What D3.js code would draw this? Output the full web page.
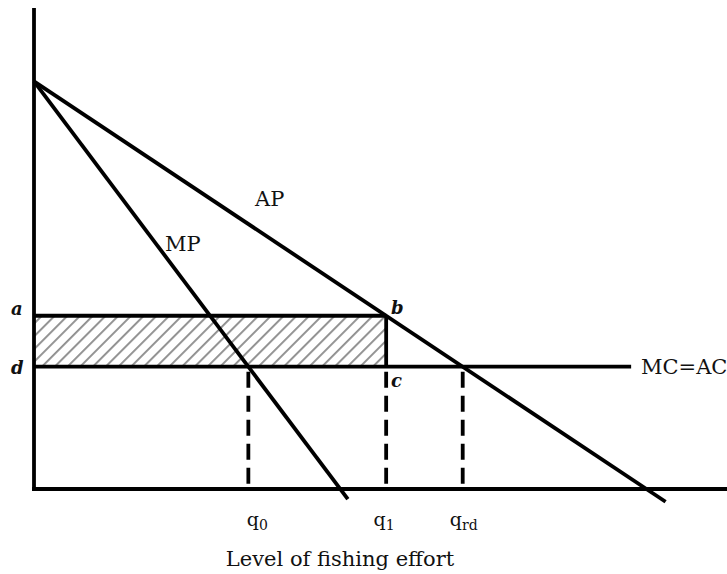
<!DOCTYPE html>
<html><head><meta charset="utf-8">
<script src="https://cdn.jsdelivr.net/npm/d3@7"></script>
<style>body{margin:0;background:#fff}svg{display:block}</style>
</head><body>
<script>
// ---- data ----
const intercept = 10;            // value where AP and MP meet the vertical axis
const apSlope = 0.625;           // average product falls by this per unit effort
const mpSlope = 1.25;            // marginal product falls by this per unit effort
const apEnd = 16.5;              // last effort drawn for AP
const mpEnd = 8.2;               // last effort drawn for MP
const priceLevels = [{name:"a", v:4.25}, {name:"d", v:3.0}];
const mcLevel = 3.0, mcEnd = 15.6;
const qNames = ["q0", "q1", "qrd"];
const qValues = [5.6, 9.2, 11.2];
const qLabelShift = [9, -2, 1];
const xLabel = "Level of fishing effort";

const W = 727, H = 574;
const svg = d3.select("body").append("svg").attr("width", W).attr("height", H);
const x = d3.scaleLinear().domain([0, 18]).range([34, 723]);
const y = d3.scaleLinear().domain([0, 11.8]).range([489, 8]);

const defs = svg.append("defs");
const pat = defs.append("pattern").attr("id","hatch").attr("patternUnits","userSpaceOnUse")
  .attr("width",9).attr("height",9).attr("patternTransform","rotate(45)");
pat.append("line").attr("x1",0).attr("y1",0).attr("x2",0).attr("y2",9)
  .attr("stroke","#8f8f8f").attr("stroke-width",3.8);

const q1 = qValues[1];
svg.append("rect").attr("x", x(0)).attr("y", y(priceLevels[0].v))
  .attr("width", x(q1)-x(0)).attr("height", y(priceLevels[1].v)-y(priceLevels[0].v))
  .attr("fill","url(#hatch)");

const lw = 3.8;
const line = (x1,y1,x2,y2,extra) => {
  const l = svg.append("line").attr("x1",x1).attr("y1",y1).attr("x2",x2).attr("y2",y2)
    .attr("stroke","#000").attr("stroke-width",lw);
  if (extra) l.attr("stroke-dasharray", extra);
  return l;
};

qValues.forEach((q,i) => {
  if (i===1) line(x(q), y(priceLevels[0].v), x(q), y(mcLevel));
  line(x(q), y(mcLevel)+5, x(q), y(0), "16,8");
});

line(x(0), y(priceLevels[0].v), x(q1), y(priceLevels[0].v));
line(x(0), y(mcLevel), x(mcEnd), y(mcLevel));

line(x(0), y(intercept), x(apEnd), y(intercept - apSlope*apEnd));
line(x(0), y(intercept), x(mpEnd), y(intercept - mpSlope*mpEnd));

line(x(0), 8, x(0), y(0)+1.9);
line(x(0)-1.9, y(0), W, y(0));

const font = "'DejaVu Serif', serif";
const txt = (s, tx, ty, size, opts={}) => {
  const t = svg.append("text").attr("x",tx).attr("y",ty).attr("font-family",font)
    .attr("font-size",size).attr("fill","#111").text(s);
  if (opts.italic) t.attr("font-style","italic").attr("font-weight","bold");
  if (opts.anchor) t.attr("text-anchor", opts.anchor);
  return t;
};
txt("AP", 255, 206, 21);
txt("MP", 165, 251, 21);
txt("MC=AC", 641, 374, 21);
txt("a", 11, 315, 18, {italic:true});
txt("d", 11, 374, 18, {italic:true});
txt("b", 391, 314, 18, {italic:true});
txt("c", 391, 387, 18, {italic:true});

qValues.forEach((q,i) => {
  const t = svg.append("text").attr("x", x(q)+qLabelShift[i]).attr("y", 526).attr("font-family",font)
    .attr("font-size",19).attr("fill","#111").attr("text-anchor","middle");
  t.append("tspan").text("q");
  t.append("tspan").attr("font-size",14).attr("dy",4).text(qNames[i].slice(1));
});
txt(xLabel, 340, 566, 21, {anchor:"middle"});
</script>
</body></html>
